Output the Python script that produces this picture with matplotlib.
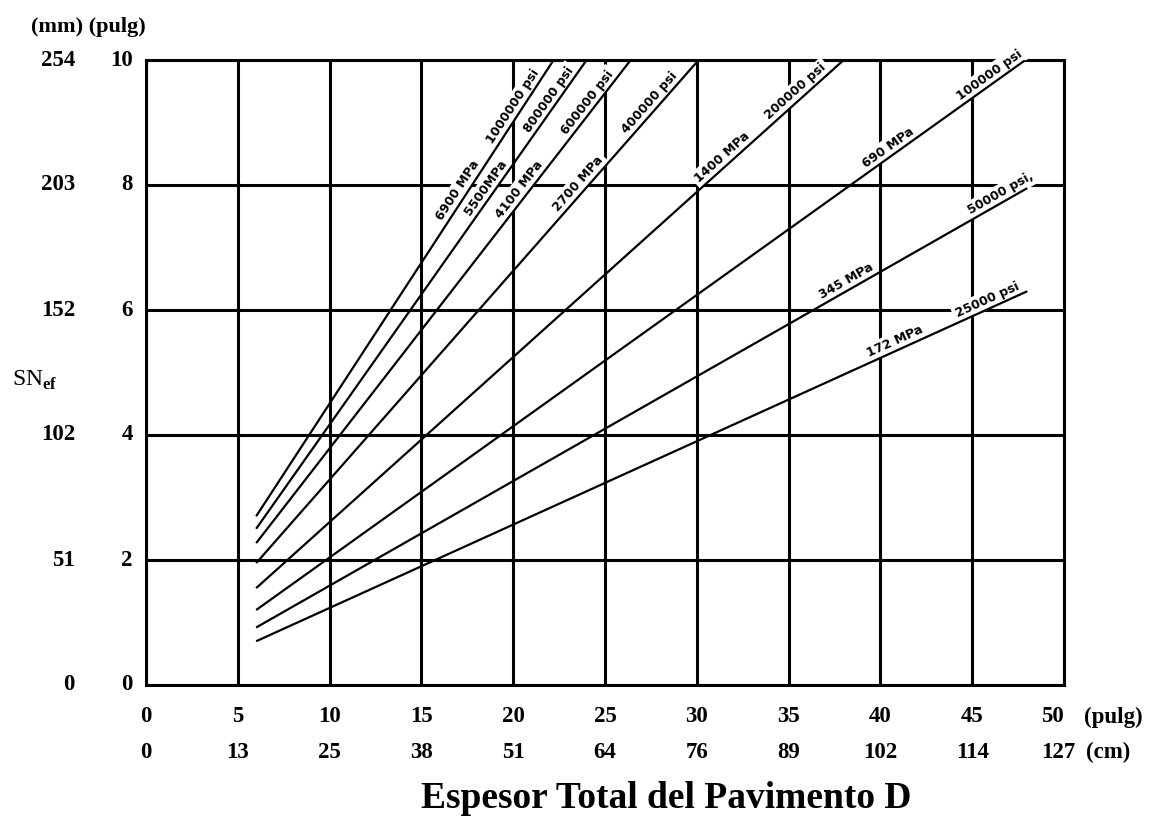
import math
import matplotlib
matplotlib.use("Agg")
import matplotlib.pyplot as plt
import matplotlib.transforms as mtransforms

plt.rcParams["mathtext.fontset"] = "custom"
plt.rcParams["mathtext.rm"] = "Liberation Serif"
plt.rcParams["mathtext.bf"] = "Liberation Serif:bold"

# lines: SN_ef vs total thickness D, one per modulus
d_start = [6, 6, 6, 6, 6, 6, 6, 6]
sn_start = [2.70, 2.50, 2.27, 1.95, 1.55, 1.20, 0.92, 0.70]
d_end = [22.2, 24.0, 26.4, 30.1, 38.0, 47.9, 48.0, 48.0]
sn_end = [10, 10, 10, 10, 10, 10, 7.95, 6.30]

mpa_labels = ["6900 MPa", "5500MPa", "4100 MPa", "2700 MPa",
              "1400 MPa", "690 MPa", "345 MPa", "172 MPa"]
psi_labels = ["1000000 psi", "800000 psi", "600000 psi", "400000 psi",
              "200000 psi", "100000 psi", "50000 psi,", "25000 psi"]
# D where each label sits along its line
mpa_at = [17.4, 18.9, 20.7, 23.9, 31.7, 40.7, 38.4, 41.0]
psi_at = [20.4, 22.3, 24.4, 27.8, 35.7, 46.2, 46.8, 46.0]

yticks_pulg = [0, 2, 4, 6, 8, 10]
yticks_mm = ["0", "51", "102", "152", "203", "254"]
xticks_pulg = [0, 5, 10, 15, 20, 25, 30, 35, 40, 45, 50]
xticks_cm = ["0", "13", "25", "38", "51", "64", "76", "89", "102", "114", "127"]

SERIF = "Liberation Serif"
TICK_FS = 16.5
W, H = 1151, 817

fig = plt.figure(figsize=(W / 100, H / 100), dpi=100)
ax = fig.add_axes([146 / W, 1 - 685 / H, (1064 - 146) / W, (685 - 60) / H])
ax.set_xlim(0, 50)
ax.set_ylim(0, 10)
ax.set_xticks(xticks_pulg)
ax.set_yticks(yticks_pulg)
ax.tick_params(length=0, labelbottom=False, labelleft=False)
ax.grid(True, color="black", lw=2.2)
ax.set_axisbelow(True)
for sp in ax.spines.values():
    sp.set_linewidth(2.2)
    sp.set_zorder(1)

for i in range(len(d_start)):
    ax.plot([d_start[i], d_end[i]], [sn_start[i], sn_end[i]],
            color="black", lw=1.6, zorder=4, solid_capstyle="butt")
    # screen angle of the line
    p1 = ax.transData.transform((d_start[i], sn_start[i]))
    p2 = ax.transData.transform((d_end[i], sn_end[i]))
    ang = math.degrees(math.atan2(p2[1] - p1[1], p2[0] - p1[0]))
    slope = (sn_end[i] - sn_start[i]) / (d_end[i] - d_start[i])
    nx, ny = -math.sin(math.radians(ang)), math.cos(math.radians(ang))
    for txt, d in [(mpa_labels[i], mpa_at[i]), (psi_labels[i], psi_at[i])]:
        sn = sn_start[i] + slope * (d - d_start[i])
        ax.annotate(txt, xy=(d, sn), xytext=(nx * 1.5, ny * 1.5),
                    textcoords="offset points", rotation=ang,
                    rotation_mode="anchor", ha="center", va="bottom",
                    fontsize=9, fontweight="bold", family="DejaVu Sans",
                    zorder=3,
                    bbox=dict(facecolor="white", edgecolor="none", pad=2.0))

# y tick labels, two columns
ty = mtransforms.blended_transform_factory(fig.transFigure, ax.transData)
for v, mm in zip(yticks_pulg, yticks_mm):
    fig.text(133 / W, v, str(v), transform=ty, ha="right", va="center",
             family=SERIF, fontweight="bold", fontsize=TICK_FS)
    fig.text(75 / W, v, mm, transform=ty, ha="right", va="center",
             family=SERIF, fontweight="bold", fontsize=TICK_FS)
fig.text(31 / W, 1 - 27 / H, "(mm) (pulg)", ha="left", va="center",
         family=SERIF, fontweight="bold", fontsize=16)
fig.text(12 / W, 1 - 380 / H, r"$\mathrm{SN}_{\mathbf{ef}}$", ha="left",
         va="center", fontsize=17)

# x tick labels, two rows
tx = mtransforms.blended_transform_factory(ax.transData, fig.transFigure)
for v, cm in zip(xticks_pulg, xticks_cm):
    last = v == xticks_pulg[-1]
    ax.text(v, 1 - 717 / H, str(v), transform=tx,
            ha="right" if last else "center", va="center",
            family=SERIF, fontweight="bold", fontsize=TICK_FS)
    ax.annotate(cm, xy=(v, 1 - 752 / H), xycoords=tx,
                xytext=(-4 if last else 0, 0), textcoords="offset points",
                ha="center", va="center",
                family=SERIF, fontweight="bold", fontsize=TICK_FS)
fig.text(1084 / W, 1 - 717 / H, "(pulg)", ha="left", va="center",
         family=SERIF, fontweight="bold", fontsize=TICK_FS)
fig.text(1086 / W, 1 - 752 / H, "(cm)", ha="left", va="center",
         family=SERIF, fontweight="bold", fontsize=TICK_FS)

fig.text(666 / W, 1 - 808 / H, "Espesor Total del Pavimento D",
         ha="center", va="baseline", family=SERIF, fontweight="bold",
         fontsize=27)

fig.savefig("out.png", dpi=100, facecolor="white")
